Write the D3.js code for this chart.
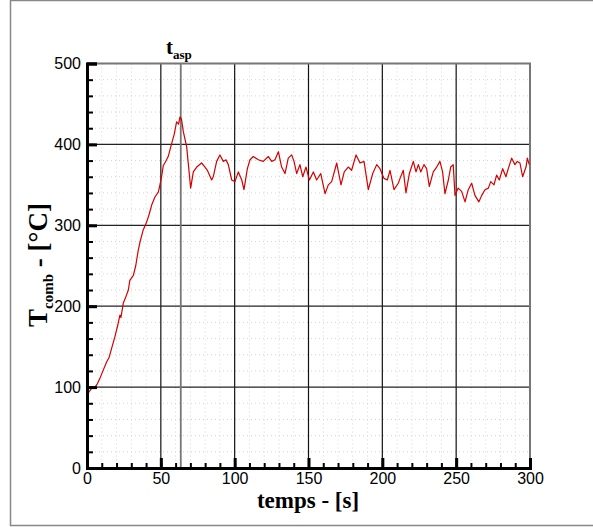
<!DOCTYPE html>
<html><head><meta charset="utf-8">
<script src="https://cdn.jsdelivr.net/npm/d3@7"></script>
<style>body{margin:0;background:#fff}svg{display:block}</style>
</head><body>
<svg id="c" width="593" height="527"></svg>
<script>
const timeS = [0,1,3,5.4,7,9,11,13.3,15,17,19,21,22.3,23,24.6,26,28,29,31.4,33,34.7,36,38,40.4,42,43.8,46,48.3,49.4,50.5,51.7,53,55,57.3,59,60.7,62,63,64,65.2,67.5,70.2,
72,74.3,77.6,79.9,81.5,84.4,85.5,87.8,90,92.3,94.1,95.7,98,100.2,102.5,104.8,106.3,108.6,110.4,112.6,116,119.4,122.8,125.1,127.3,129.6,131.8,134.1,136.3,138.6,140.2,142,144.2,146.1,148.3,150.6,153.3,155.5,158.3,161.2,163.4,165.7,169.1,172,174.2,176.9,179.2,182.2,184.9,187.6,190.5,193.5,196.2,198.4,201.1,203.4,205.2,207.9,210.8,212,214.2,216,218.3,221,222.8,224.4,226,228.2,230,231.8,234.5,236.8,239,240.8,242.4,244.7,246.3,248,249.2,251.4,253.7,256,258.2,260.5,262.7,265.4,267.3,269.5,271.8,273.4,275.6,277.4,279.2,281.5,283.7,285.3,287.6,289.8,291.4,293.2,295,297.3,298.2,299.5];
const tempC = [88,93,98,100,104,112,121,131,137,150,163,178,189,186,204,210,220,232,238,250,269,280,294,304,313,325,335,341,350,360,374,378,385,401,412,428,425,434,431,416,397,346,
366,372,377,372,368,356,360,379,387,379,381,375,356,354,366,356,344,370,381,385,381,379,385,379,381,391,372,364,383,387,379,364,375,360,372,356,366,356,364,339,350,354,377,350,366,372,368,387,377,379,344,364,375,370,358,356,368,344,352,358,368,340,364,379,366,375,366,375,370,348,366,372,379,366,339,356,372,375,337,346,342,329,344,352,337,329,337,344,346,354,350,362,356,370,360,370,383,375,379,377,360,372,383,375];
const xTicks = [0,50,100,150,200,250,300];
const yTicks = [0,100,200,300,400,500];
const tAsp = 63.5;

const svg = d3.select("#c");
const L=87, R=530, T=63.5, B=468;
const x = d3.scaleLinear().domain([0,300]).range([L,R]);
const y = d3.scaleLinear().domain([0,500]).range([B,T]);

// outer frame
svg.append("path").attr("d",`M600,0.5H10.5V525.5H600`).attr("fill","none").attr("stroke","#888").attr("stroke-width",1.5);

// minor grid dotted
const xMinor = d3.range(0,301,10), yMinor = d3.range(0,501,20);
svg.append("g").selectAll("line").data(xMinor.filter(v=>v%50)).join("line")
  .attr("x1",d=>x(d)).attr("x2",d=>x(d)).attr("y1",T).attr("y2",B)
  .attr("stroke","#d4d4d4").attr("stroke-width",1).attr("stroke-dasharray","1,3");
svg.append("g").selectAll("line").data(yMinor.filter(v=>v%100)).join("line")
  .attr("y1",d=>y(d)).attr("y2",d=>y(d)).attr("x1",L).attr("x2",R)
  .attr("stroke","#d4d4d4").attr("stroke-width",1).attr("stroke-dasharray","1,3");

// major grid
svg.append("g").selectAll("line").data(xTicks.slice(1,-1)).join("line")
  .attr("x1",d=>x(d)).attr("x2",d=>x(d)).attr("y1",T).attr("y2",B)
  .attr("stroke","#111").attr("stroke-width",1.2);
svg.append("g").selectAll("line").data(yTicks.slice(1,-1)).join("line")
  .attr("y1",d=>y(d)).attr("y2",d=>y(d)).attr("x1",L).attr("x2",R)
  .attr("stroke","#222").attr("stroke-width",1.2);

// t_asp line
svg.append("line").attr("x1",x(tAsp)).attr("x2",x(tAsp)).attr("y1",T).attr("y2",B)
  .attr("stroke","#777").attr("stroke-width",1.8);

// top/right border
svg.append("path").attr("d",`M${L},${T}H${R}V${B}`).attr("fill","none").attr("stroke","#777").attr("stroke-width",2);

// data line
svg.append("path").datum(timeS.map((t,i)=>[t,tempC[i]]))
  .attr("d",d3.line().x(d=>x(d[0])).y(d=>y(d[1])))
  .attr("fill","none").attr("stroke","#d40000").attr("stroke-width",1.2).attr("stroke-linejoin","round");

// axes
const font = "'Liberation Sans', Arial, sans-serif";
const gx = svg.append("g").attr("transform",`translate(0,${B})`);
gx.call(d3.axisBottom(x).tickValues(xMinor).tickSize(-5).tickFormat(""));
gx.call(g=>g.selectAll(".tick line").attr("stroke","#000").attr("stroke-width",2));
const gx2 = svg.append("g").attr("transform",`translate(0,${B})`);
gx2.call(d3.axisBottom(x).tickValues(xTicks).tickSize(-10).tickPadding(5).tickFormat(d3.format("d")));
gx2.call(g=>{g.select(".domain").attr("stroke","#000").attr("stroke-width",3);
  g.selectAll(".tick line").attr("stroke","#000").attr("stroke-width",3);
  g.selectAll(".tick text").attr("font-family",font).attr("font-size",16).attr("fill","#000");});

const gy = svg.append("g").attr("transform",`translate(${L},0)`);
gy.call(d3.axisLeft(y).tickValues(yMinor).tickSize(-6).tickFormat(""));
gy.call(g=>g.selectAll(".tick line").attr("stroke","#000").attr("stroke-width",2));
const gy2 = svg.append("g").attr("transform",`translate(${L},0)`);
gy2.call(d3.axisLeft(y).tickValues(yTicks).tickSize(-10).tickPadding(6).tickFormat(d3.format("d")));
gy2.call(g=>{g.select(".domain").attr("stroke","#000").attr("stroke-width",3);
  g.selectAll(".tick line").attr("stroke","#000").attr("stroke-width",3);
  g.selectAll(".tick text").attr("font-family",font).attr("font-size",16).attr("fill","#000");});
gx2.select(".domain").raise();

// titles
const serif = "'Liberation Serif','Times New Roman',serif";
svg.append("text").attr("x",308).attr("y",508).attr("text-anchor","middle")
  .attr("font-family",serif).attr("font-weight","bold").attr("font-size",23).text("temps - [s]");

const yt = svg.append("text").attr("transform","translate(47,265) rotate(-90)").attr("text-anchor","middle")
  .attr("font-family",serif).attr("font-weight","bold").attr("font-size",27);
yt.append("tspan").text("T");
yt.append("tspan").attr("font-size",15).attr("dy",6).text("comb");
yt.append("tspan").attr("dy",-6).text(" - [°C]");

const ta = svg.append("text").attr("x",166).attr("y",54).attr("font-family",serif).attr("font-weight","bold").attr("font-size",21);
ta.append("tspan").text("t");
ta.append("tspan").attr("font-size",13).attr("dy",5).text("asp");
</script>
</body></html>
